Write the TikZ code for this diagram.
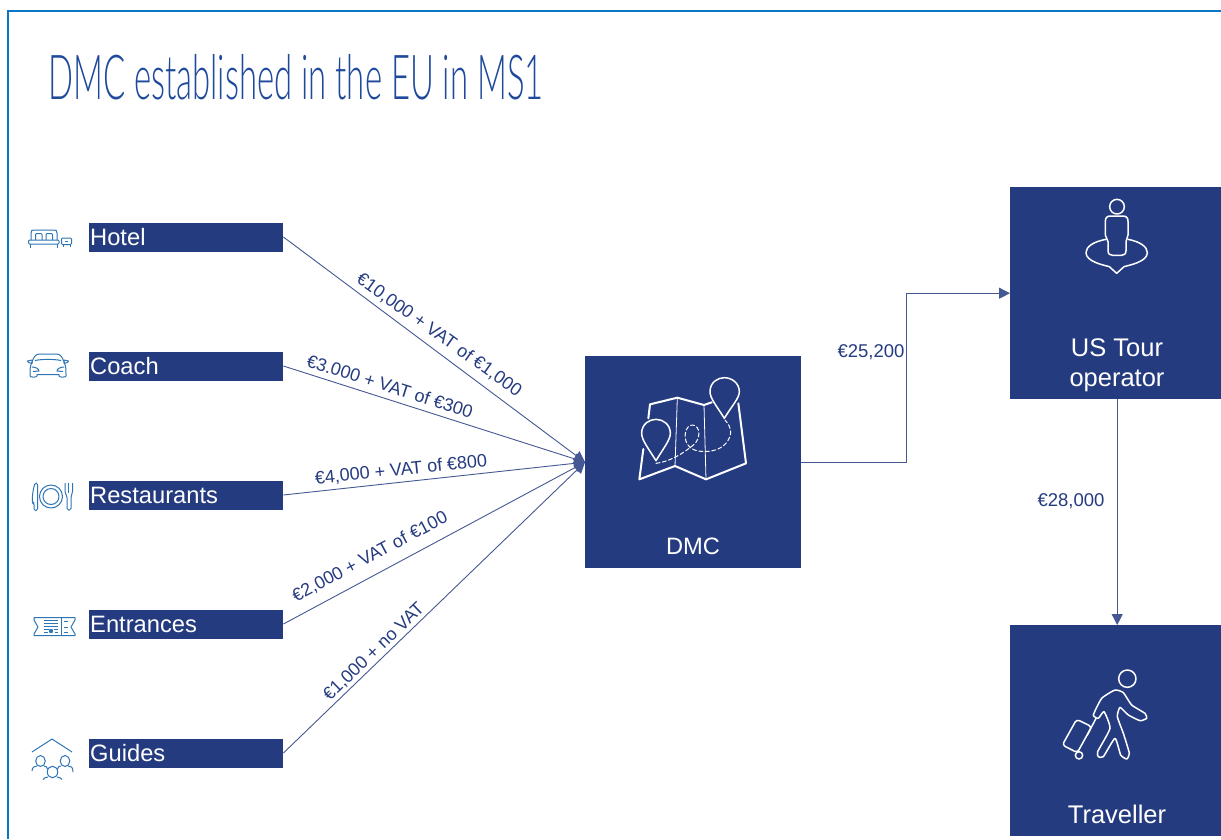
\documentclass[tikz,border=0pt]{standalone}
\usepackage{fontspec}
\usetikzlibrary{arrows.meta,calc}
\setmainfont{Liberation Sans}
\newfontfamily\titlefont[FakeStretch=0.53]{Lato Light}
\definecolor{navy}{HTML}{253B80}
\definecolor{framec}{HTML}{0A76C4}
\definecolor{iconc}{HTML}{2E75B6}
\definecolor{titlec}{HTML}{1F4A9C}
\tikzset{
  catbox/.style={fill=navy,text=white,anchor=west,minimum width=194pt,minimum height=29pt,inner sep=1pt,text width=192pt,align=left,font=\fontsize{23.7}{26}\selectfont},
  bigbox/.style={fill=navy,minimum height=212pt,inner sep=0pt},
  boxtext/.style={text=white,align=center,inner sep=0pt,font=\fontsize{23.7}{30}\selectfont},
  boxtextb/.style={boxtext,font=\fontsize{25.5}{30}\selectfont},
  pricetext/.style={text=navy,inner sep=0pt,font=\fontsize{18}{20}\selectfont},
  flattext/.style={pricetext,font=\fontsize{18.5}{20}\selectfont},
  link/.style={draw=navy!85!white,line width=0.9pt,-{Triangle[length=11pt,width=11pt]}},
  lefticon/.style={draw=iconc,line width=1pt,fill=none,line join=round},
  whiteicon/.style={draw=white,line width=1.5pt,fill=none,line join=round,line cap=round},
  whitethick/.style={whiteicon,line width=2pt},
  whitedash/.style={whiteicon,line width=1pt,dash pattern=on 4pt off 2.5pt},
}
\begin{document}
\begin{tikzpicture}[x=1pt,y=-1pt]
\useasboundingbox (0,0) rectangle (1221,839);
\fill[white] (0,0) rectangle (1221,839);
% frame
\draw[framec,line width=2pt] (8,839) -- (8,11) -- (1221,11);
% title
\node[anchor=west,text=titlec,inner sep=0pt] (title) at (48,77) {\titlefont\fontsize{62}{66}\selectfont DMC established in the EU in MS1};
% left boxes
\node[catbox] (hotel) at (89,237) {\raisebox{-0.5pt}{Hotel}};
\node[catbox] (coach) at (89,366) {\raisebox{-1pt}{Coach}};
\node[catbox] (rest)  at (89,495) {\raisebox{-1.5pt}{Restaurants}};
\node[catbox] (entr)  at (89,624) {\raisebox{-2pt}{Entrances}};
\node[catbox] (guid)  at (89,753) {\raisebox{-1pt}{Guides}};
% big boxes
\node[bigbox,minimum width=216pt,anchor=north west] (dmc) at (585,356) {};
\node[bigbox,minimum width=211pt,anchor=north west] (us) at (1010,187) {};
\node[bigbox,minimum width=211pt,anchor=north west,minimum height=211pt] (trav) at (1010,625) {};
\node[boxtext] (dmcl) at (693,546) {DMC};
\node[boxtextb] (usl) at (1117,365) {US Tour\\operator};
\node[boxtextb] (travl) at (1117,814) {Traveller};
% connectors
\draw[link] (hotel.east) -- (dmc.west);
\draw[link] (coach.east) -- (dmc.west);
\draw[link] (rest.east) -- (dmc.west);
\draw[link] (entr.east) -- (dmc.west);
\draw[link] (guid.east) -- (dmc.west);
\coordinate (bend) at (906,380);
\draw[link] (dmc.east) -| (bend) |- (us.west);
\draw[link] ([xshift=1.5pt]us.south) -- ([xshift=1.5pt]trav.north);
% labels
\node[pricetext,rotate=-35.5] (l1) at (439,335) {€10,000 + VAT of €1,000};
\node[pricetext,rotate=-17.5] (l2) at (390,386) {€3.000 + VAT of €300};
\node[pricetext,rotate=6] (l3) at (401,470) {€4,000 + VAT of €800};
\node[pricetext,rotate=28] (l4) at (370,557) {€2,000 + VAT of €100};
\node[pricetext,rotate=44] (l5) at (374,652) {€1,000 + no VAT};
\node[flattext] (l6) at (871,352) {€25,200};
\node[flattext] (l7) at (1071,501) {€28,000};
% hotel icon
\begin{scope}[lefticon]
\draw (31,240) -- (31,233) .. controls (31,230.5) and (32,230) .. (34,230) -- (54,230) .. controls (56,230) and (57,230.5) .. (57,233) -- (57,240);
\draw[rounded corners=1pt] (28.5,240) rectangle (59,244);
\draw (30,244) -- (30,247.5) (57.5,244) -- (57.5,247.5);
\draw[rounded corners=1pt] (35.5,240) -- (35.5,233.5) -- (42,233.5) -- (42,240);
\draw[rounded corners=1pt] (46,240) -- (46,233.5) -- (52.5,233.5) -- (52.5,240);
\draw[rounded corners=1pt] (61.5,238) rectangle (71.5,244.5);
\draw (63,244.5) -- (63,246.5) (70,244.5) -- (70,246.5) (65,241) -- (68,241);
% car
\draw (32,362) .. controls (34,356) and (36,354) .. (40,354) -- (56,354) .. controls (60,354) and (62,356) .. (64,362);
\draw (35,360.5) .. controls (42,359) and (54,359) .. (61,360.5);
\draw (32,362) .. controls (30,366) and (30,370) .. (30,374) -- (30,376) .. controls (30,377.5) and (37,377.5) .. (37,376) -- (37,374.5) -- (59,374.5) -- (59,376) .. controls (59,377.5) and (66,377.5) .. (66,376) -- (66,374) .. controls (66,370) and (66,366) .. (64,362);
\draw (27.5,361) -- (32,360) -- (32,363.5) -- (28.5,362.5) -- cycle (68.5,361) -- (64,360) -- (64,363.5) -- (67.5,362.5) -- cycle;
\draw (32,367) .. controls (36,367) and (39,369) .. (39,371) -- (33,371.5) (64,367) .. controls (60,367) and (57,369) .. (57,371) -- (63,371.5);
% cutlery
\draw[rounded corners=1.5pt] (35,483) .. controls (33,490) and (32,497) .. (32.5,503) -- (34,503) -- (34,510.5) -- (37.5,510.5) -- (37.5,483) -- cycle;
\draw (51,496.5) circle (11.5) (51,496.5) circle (8);
\draw[rounded corners=1.5pt] (65,483) -- (65,493) -- (67,496) -- (67,510) -- (71,510) -- (71,496) -- (72.5,493) -- (72.5,483);
\draw (68.7,483) -- (68.7,493);
% ticket
\draw (34,617.5) -- (75,617.5) -- (75,620) -- (71,627) -- (75,634) -- (75,635.5) -- (34,635.5) -- (34,634) -- (38,627) -- (34,620) -- cycle;
\draw (61,617.5) -- (61,635.5);
\draw (44,620.5) -- (58,620.5) (44,623.5) -- (58,623.5) (44,626.5) -- (58,626.5) (44,629.5) -- (49,629.5) (53.5,629.5) -- (58,629.5) (44,632.5) -- (48,632.5) (55,632.5) -- (58,632.5);
\fill[iconc] (51,631) circle (2.2);
\draw (64,621) -- (68,621) (64,627) -- (68,627) (64,632.5) -- (68,632.5);
% guides
\draw (32,752) -- (52,739) -- (72,752);
\draw (40.5,761) ellipse (4.8 and 5.5) (65,761) ellipse (4.8 and 5.5) (52.5,772) ellipse (5.2 and 5.8);
\draw (32,771) .. controls (32,767) and (35,766) .. (37,766) (44,766) .. controls (46,766) and (47,767) .. (47.5,769);
\draw (57.5,769) .. controls (58,767) and (59,766) .. (61,766) (68,766) .. controls (71,766) and (73,767) .. (73,772);
\draw (43,779.5) .. controls (44,778) and (46,777) .. (48,777) (57,777) .. controls (59,777) and (61,778) .. (62,779.5);
\end{scope}
% map icon
\begin{scope}[shift={(560,350)},scale=1/3]
\draw[whitethick] (265,205) -- (270,163) -- (352,143) -- (432,165) -- (455,157);
\draw[whitethick] (250,297) -- (238,388) -- (345,348) -- (438,388) -- (558,340) -- (535,160);
\draw[whiteicon,line width=0.8pt] (352,143) -- (345,348) (432,165) -- (438,388);
\draw[whiteicon] (288,332) .. controls (265,295) and (245,270) .. (245,250) .. controls (245,222) and (268,208) .. (288,208) .. controls (310,208) and (331,224) .. (331,250) .. controls (331,270) and (310,295) .. (288,332) -- cycle;
\draw[whiteicon] (493,205) .. controls (470,168) and (450,145) .. (450,125) .. controls (450,97) and (473,83) .. (493,83) .. controls (515,83) and (538,99) .. (538,125) .. controls (538,145) and (515,168) .. (493,205) -- cycle;
\draw[whitedash] (288,340) .. controls (330,335) and (370,310) .. (400,285) .. controls (425,265) and (420,225) .. (397,225) .. controls (375,225) and (365,270) .. (390,292) .. controls (410,312) and (500,315) .. (512,250) .. controls (513,235) and (505,220) .. (495,210);
\end{scope}
% person on pin icon
\begin{scope}[shift={(1000,180)},scale=1/3]
\draw[whiteicon] (351,80) circle (22);
\draw[whiteicon] (332,108) -- (368,108) .. controls (380,108) and (384,114) .. (384,124) -- (384,165) .. controls (384,175) and (378,175) .. (378,185) -- (378,212) .. controls (378,222) and (372,226) .. (364,226) -- (338,226) .. controls (330,226) and (324,222) .. (324,212) -- (324,185) .. controls (324,175) and (316,175) .. (316,165) -- (316,124) .. controls (316,114) and (320,108) .. (332,108) -- cycle;
\draw[whiteicon] (318,178) .. controls (280,185) and (258,200) .. (258,218) .. controls (258,245) and (310,255) .. (328,260) -- (350,280) -- (372,260) .. controls (390,255) and (442,245) .. (442,218) .. controls (442,200) and (420,185) .. (384,178);
\end{scope}
% traveller icon
\begin{scope}[shift={(1000,610)},scale=1/3]
\draw[whiteicon] (382,206) circle (26);
\draw[whiteicon] plot[smooth cycle,tension=0.3] coordinates {(280,315) (305,265) (345,240) (370,248) (395,285) (435,310) (440,325) (420,332) (385,315) (360,292) (352,320) (370,370) (388,430) (380,447) (362,435) (345,385) (310,440) (295,440) (293,425) (330,355) (312,305) (295,325)};
\draw[whiteicon,rounded corners=3pt] (230,328) -- (275,350) -- (232,428) -- (187,405) -- cycle;
\draw[whiteicon] (237,436) circle (11);
\draw[whiteicon] (262,375) -- (288,325);
\end{scope}
\end{tikzpicture}
\end{document}
